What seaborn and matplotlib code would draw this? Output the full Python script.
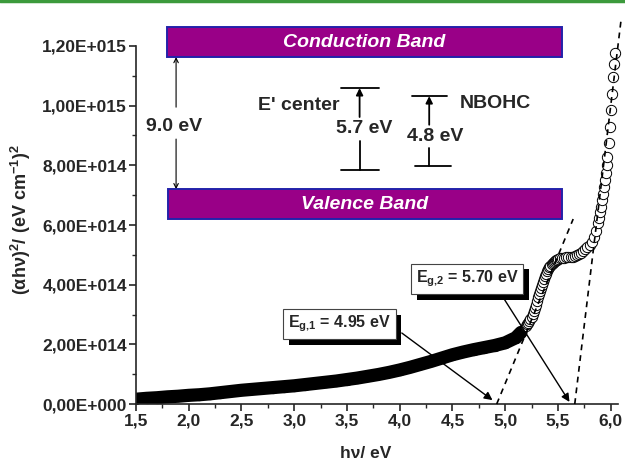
import numpy as np
import pandas as pd
import matplotlib
matplotlib.use('Agg')
import matplotlib.pyplot as plt
import seaborn as sns
import matplotlib.patheffects as pe
from matplotlib.patches import Rectangle
from matplotlib.lines import Line2D
from matplotlib.ticker import FuncFormatter, MultipleLocator

# photon energy (eV) and (alpha h nu)^2 in units of 1e14
energy_low = [1.5, 1.6, 1.7, 1.8, 1.9, 2.0, 2.1, 2.2, 2.3, 2.4, 2.5, 2.6, 2.7,
              2.8, 2.9, 3.0, 3.1, 3.2, 3.3, 3.4, 3.5, 3.6, 3.7, 3.8, 3.9, 4.0,
              4.1, 4.2, 4.3, 4.4, 4.5, 4.6, 4.7, 4.8, 4.9, 5.0, 5.1, 5.15]
absorb_low = [0.16, 0.19, 0.21, 0.24, 0.26, 0.29, 0.31, 0.34, 0.38, 0.42, 0.46,
              0.49, 0.52, 0.55, 0.58, 0.61, 0.65, 0.69, 0.73, 0.77, 0.82, 0.87,
              0.93, 0.99, 1.06, 1.14, 1.23, 1.33, 1.43, 1.54, 1.65, 1.74, 1.82,
              1.89, 1.96, 2.05, 2.22, 2.40]

energy_edge = [5.20, 5.21, 5.22, 5.23, 5.24, 5.25, 5.26, 5.27, 5.28, 5.29, 5.30,
               5.31, 5.32, 5.33, 5.34, 5.35, 5.36, 5.37, 5.38, 5.39, 5.40, 5.41,
               5.42, 5.43, 5.44, 5.45, 5.46, 5.47, 5.48, 5.49, 5.50, 5.52, 5.54,
               5.56, 5.58, 5.60, 5.62, 5.64, 5.66, 5.68, 5.70, 5.72, 5.74, 5.76,
               5.78, 5.80, 5.82, 5.84, 5.86, 5.88, 5.89, 5.90, 5.91, 5.92, 5.93,
               5.94, 5.95, 5.96, 5.965, 5.97, 5.98, 5.99, 6.00, 6.01, 6.02, 6.03,
               6.04]
absorb_edge = [2.62, 2.67, 2.72, 2.78, 2.85, 2.93, 3.02, 3.12, 3.22, 3.33, 3.45,
               3.57, 3.68, 3.79, 3.90, 4.00, 4.10, 4.19, 4.28, 4.37, 4.45, 4.52,
               4.58, 4.63, 4.68, 4.72, 4.76, 4.79, 4.82, 4.84, 4.86, 4.89, 4.90,
               4.91, 4.92, 4.93, 4.93, 4.93, 4.95, 4.98, 5.02, 5.07, 5.12, 5.18,
               5.25, 5.33, 5.44, 5.60, 5.80, 6.08, 6.25, 6.42, 6.62, 6.83, 7.05,
               7.27, 7.50, 7.74, 8.00, 8.27, 8.74, 9.28, 9.85, 10.40, 10.95, 11.40,
               11.76]

# tangent lines used for the band gap extrapolation (x in eV, y in 1e14)
fit1_x = [4.92, 5.645]
fit1_y = [0.0, 6.2]
fit2_x = [5.66, 6.10]
fit2_y = [0.0, 12.9]

gap_labels = ['4.95', '5.70']

low = pd.DataFrame({'energy': energy_low, 'absorb': np.array(absorb_low) * 1e14})
edge = pd.DataFrame({'energy': energy_edge, 'absorb': np.array(absorb_edge) * 1e14})

sns.set_style('ticks')
plt.rcParams['font.family'] = ['Liberation Sans', 'DejaVu Sans']
plt.rcParams['font.weight'] = 'bold'
plt.rcParams['mathtext.fontset'] = 'custom'
plt.rcParams['mathtext.bf'] = 'Liberation Sans:bold'
plt.rcParams['mathtext.rm'] = 'Liberation Sans:bold'
plt.rcParams['mathtext.it'] = 'Liberation Sans:bold'

fig = plt.figure(figsize=(6.25, 4.61), dpi=100)
ax = fig.add_axes([136 / 625, 57 / 461, 482 / 625, 358 / 461])

# dense part of the curve shows up as a solid black band
sns.lineplot(data=low, x='energy', y='absorb', ax=ax, color='black', lw=9.5,
             sort=False, estimator=None, solid_capstyle='round', zorder=2)
sns.scatterplot(data=low, x='energy', y='absorb', ax=ax, s=55,
                facecolor='black', edgecolor='black', linewidth=0.7,
                zorder=2, legend=False)
sns.scatterplot(data=edge, x='energy', y='absorb', ax=ax, s=55,
                facecolor='white', edgecolor='black', linewidth=0.7,
                zorder=3, clip_on=False, legend=False)

for fx, fy in [(fit1_x, fit1_y), (fit2_x, fit2_y)]:
    ax.plot(fx, np.array(fy) * 1e14, color='black', lw=1.2, ls='--',
            dashes=(3.5, 3), zorder=4, clip_on=False)

ax.set_xlim(1.5, 6.07)
ax.set_ylim(0, 1.2e15)
sns.despine(ax=ax)
for s in ['left', 'bottom']:
    ax.spines[s].set_linewidth(1.2)

ax.xaxis.set_major_locator(MultipleLocator(0.5))
ax.xaxis.set_minor_locator(MultipleLocator(0.25))
ax.yaxis.set_major_locator(MultipleLocator(2e14))
ax.yaxis.set_minor_locator(MultipleLocator(1e14))


def yfmt(v, pos):
    if v <= 0:
        return '0,00E+000' if abs(v) < 1 else ''
    e = int(np.floor(np.log10(v)))
    return f"{v / 10 ** e:.2f}".replace('.', ',') + f"E+{e:03d}"


ax.yaxis.set_major_formatter(FuncFormatter(yfmt))
ax.xaxis.set_major_formatter(FuncFormatter(lambda v, p: f"{v:.1f}".replace('.', ',')))
ax.tick_params(which='major', direction='out', length=5, width=1.2,
               labelsize=12.5, pad=1.5)
ax.tick_params(which='minor', direction='out', length=3, width=1.0)
for lab in ax.get_xticklabels() + ax.get_yticklabels():
    lab.set_fontweight('bold')

ax.set_xlabel('hν/ eV', fontsize=12.5, fontweight='bold')
ax.set_ylabel(r'$\mathbf{(\alpha h\nu)^2/\ (eV\ cm^{-1})^2}$', fontsize=13)
ax.xaxis.set_label_coords(0.477, -0.118)
ax.yaxis.set_label_coords(-0.213, 0.515)

# band diagram inset
band_face = '#990087'
band_edge = '#2222aa'
ax.add_patch(Rectangle((1.794, 1.163e15), 3.742, 1.0e14, facecolor=band_face,
                       edgecolor=band_edge, lw=1.4, clip_on=False, zorder=5))
ax.add_patch(Rectangle((1.804, 6.2e14), 3.732, 1.0e14, facecolor=band_face,
                       edgecolor=band_edge, lw=1.4, clip_on=False, zorder=5))
ax.text(3.665, 1.213e15, 'Conduction Band', color='white', fontsize=14,
        fontweight='bold', style='italic', ha='center', va='center',
        zorder=6, clip_on=False)
ax.text(3.665, 6.7e14, 'Valence Band', color='white', fontsize=14,
        fontweight='bold', style='italic', ha='center', va='center', zorder=6)

# 9.0 eV gap arrow
thin = dict(arrowstyle='->', color='black', lw=0.8, mutation_scale=8,
            shrinkA=0, shrinkB=0)
ax.annotate('', xy=(1.88, 1.163e15), xytext=(1.88, 9.95e14), arrowprops=thin)
ax.annotate('', xy=(1.88, 7.2e14), xytext=(1.88, 8.88e14), arrowprops=thin)
ax.text(1.86, 9.31e14, '9.0 eV', fontsize=14, fontweight='bold',
        ha='center', va='center')

# E' center levels
bar_kw = dict(color='black', lw=1.3)
ax.plot([3.44, 3.80], [1.059e15, 1.059e15], **bar_kw)
ax.plot([3.44, 3.80], [7.84e14, 7.84e14], **bar_kw)
ax.plot([3.62, 3.62], [7.84e14, 8.80e14], **bar_kw)
ax.annotate('', xy=(3.62, 1.059e15), xytext=(3.62, 9.62e14),
            arrowprops=dict(arrowstyle='-|>', color='black', lw=1.3,
                            mutation_scale=10, shrinkA=0, shrinkB=0))
ax.text(3.665, 9.25e14, '5.7 eV', fontsize=14, fontweight='bold',
        ha='center', va='center')
ax.text(3.43, 1.0e15, "E' center", fontsize=14, fontweight='bold',
        ha='right', va='center')

# NBOHC levels
ax.plot([4.12, 4.45], [1.032e15, 1.032e15], **bar_kw)
ax.plot([4.15, 4.49], [7.97e14, 7.97e14], **bar_kw)
ax.plot([4.28, 4.28], [7.97e14, 8.58e14], **bar_kw)
ax.annotate('', xy=(4.28, 1.032e15), xytext=(4.28, 9.36e14),
            arrowprops=dict(arrowstyle='-|>', color='black', lw=1.3,
                            mutation_scale=10, shrinkA=0, shrinkB=0))
ax.text(4.34, 8.98e14, '4.8 eV', fontsize=14, fontweight='bold',
        ha='center', va='center')
ax.text(4.57, 1.008e15, 'NBOHC', fontsize=14, fontweight='bold',
        ha='left', va='center')

# band gap labels with shadowed boxes
box_pos = [(3.43, 2.68e14), (4.64, 4.19e14)]
arrow_from = [(4.02, 2.38e14), (4.985, 3.55e14)]
arrow_to = [(4.88, 1.3e13), (5.61, 7e12)]
for i, lab in enumerate(gap_labels):
    t = ax.text(*box_pos[i], r'$\mathbf{E_{g{,}%d}}$ = %s eV' % (i + 1, lab),
                fontsize=11.5, fontweight='bold', ha='center', va='center',
                zorder=7,
                bbox=dict(boxstyle='square,pad=0.3', facecolor='white',
                          edgecolor='#444444', lw=0.8))
    t.get_bbox_patch().set_path_effects([
        pe.SimplePatchShadow(offset=(4, -4), shadow_rgbFace='black', alpha=1.0),
        pe.Normal()])
    ax.annotate('', xy=arrow_to[i], xytext=arrow_from[i], zorder=6,
                arrowprops=dict(arrowstyle='-|>', color='black', lw=1.0,
                                mutation_scale=12, shrinkA=0, shrinkB=0))

fig.add_artist(Line2D([0, 1], [0.997, 0.997], transform=fig.transFigure,
                      color='#3c9a3c', lw=2.5))

fig.savefig('out.png', dpi=100)
